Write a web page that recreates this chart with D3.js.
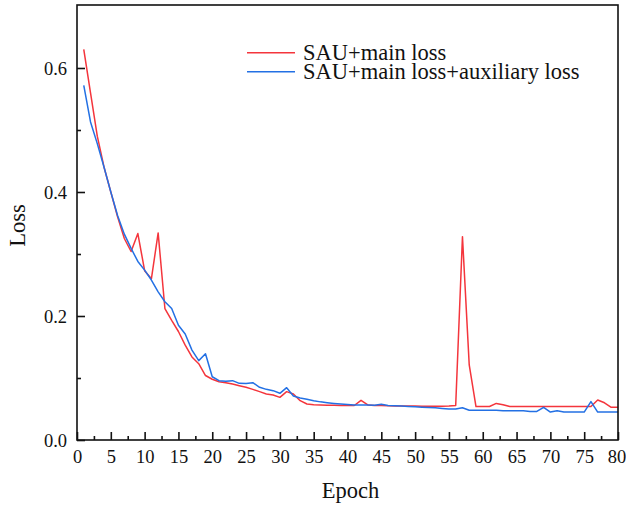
<!DOCTYPE html>
<html><head><meta charset="utf-8">
<script src="https://cdn.jsdelivr.net/npm/d3@7"></script>
<style>body{margin:0;background:#fff}svg{display:block}text{font-family:"Liberation Serif","Times New Roman",serif;fill:#111}</style>
</head><body>
<script>
const epochs = d3.range(1, 81);
const mainLoss = [0.630,0.560,0.490,0.440,0.400,0.360,0.325,0.304,0.333,0.273,
0.260,0.334,0.212,0.193,0.175,0.153,0.134,0.123,0.104,0.098,
0.094,0.0925,0.0903,0.0876,0.085,0.0817,0.078,0.0742,0.0726,0.0688,
0.078,0.0742,0.0634,0.058,0.057,0.0565,0.0562,0.056,0.0558,0.0556,
0.0556,0.064,0.0565,0.0555,0.0555,0.0552,0.055,0.055,0.0548,0.0548,
0.0546,0.0546,0.0545,0.0545,0.0548,0.0556,0.328,0.121,0.054,0.054,
0.054,0.059,0.057,0.054,0.054,0.054,0.054,0.054,0.054,0.054,
0.054,0.054,0.054,0.054,0.054,0.054,0.0645,0.060,0.0527,0.0527];
const auxLoss = [0.572,0.513,0.478,0.440,0.400,0.362,0.332,0.309,0.288,0.274,
0.258,0.239,0.223,0.212,0.185,0.171,0.145,0.128,0.139,0.102,
0.0957,0.0946,0.0957,0.0914,0.091,0.0925,0.085,0.0817,0.0796,0.0753,
0.0844,0.071,0.0677,0.0656,0.0634,0.0615,0.0602,0.059,0.058,0.0572,
0.0565,0.0565,0.0565,0.0562,0.0575,0.0556,0.0552,0.0548,0.0542,0.0535,
0.053,0.0525,0.052,0.051,0.050,0.050,0.052,0.048,0.048,0.048,
0.048,0.048,0.047,0.047,0.047,0.047,0.046,0.046,0.0527,0.045,
0.047,0.045,0.045,0.045,0.045,0.062,0.045,0.045,0.045,0.045];
const xTicks = d3.range(0, 81, 5);
const xMinor = d3.range(2.5, 80, 5);
const yTicks = [0.0, 0.2, 0.4, 0.6];
const yMinor = [0.1, 0.3, 0.5];
const seriesNames = ["SAU+main loss", "SAU+main loss+auxiliary loss"];
const colors = ["#f4353c", "#2370e4"];

const W = 626, H = 506;
const L = 77, R = 618, T = 5, B = 440;
const svg = d3.select("body").append("svg").attr("width", W).attr("height", H);
const x = d3.scaleLinear().domain([0, 80]).range([L, R]);
const y = d3.scaleLinear().domain([0, 0.7016]).range([B, T]);

const line = d3.line().x((d, i) => x(epochs[i])).y(d => y(d));
[mainLoss, auxLoss].forEach((s, k) => {
  svg.append("path").datum(s).attr("d", line).attr("fill", "none")
    .attr("stroke", colors[k]).attr("stroke-width", 1.5).attr("stroke-linejoin", "round");
});

// frame
svg.append("rect").attr("x", L).attr("y", T).attr("width", R - L).attr("height", B - T)
  .attr("fill", "none").attr("stroke", "#111").attr("stroke-width", 1.6);

// x axis
const xAx = svg.append("g").attr("transform", `translate(0,${B})`)
  .call(d3.axisBottom(x).tickValues(xTicks).tickSize(-8).tickFormat(d3.format("d")));
const xAxm = svg.append("g").attr("transform", `translate(0,${B})`)
  .call(d3.axisBottom(x).tickValues(xMinor).tickSize(-4).tickFormat(""));
// y axis
const yAx = svg.append("g").attr("transform", `translate(${L},0)`)
  .call(d3.axisLeft(y).tickValues(yTicks).tickSize(-8).tickFormat(d3.format(".1f")));
const yAxm = svg.append("g").attr("transform", `translate(${L},0)`)
  .call(d3.axisLeft(y).tickValues(yMinor).tickSize(-4).tickFormat(""));
[xAx, xAxm, yAx, yAxm].forEach(g => {
  g.select(".domain").remove();
  g.selectAll("line").attr("stroke", "#111").attr("stroke-width", 1.6);
});
xAx.selectAll("text").attr("font-size", 18.5).attr("y", 10).attr("dy", "0.71em")
  .attr("x", d => d === 80 ? -1.5 : 0);
yAx.selectAll("text").attr("font-size", 18.5).attr("x", -10).attr("dy", "0.34em");

// axis titles
svg.append("text").attr("x", (L + R) / 2 + 3).attr("y", 498).attr("text-anchor", "middle")
  .attr("font-size", 22.5).text("Epoch");
svg.append("text").attr("transform", `translate(25,${(T + B) / 2 + 3}) rotate(-90)`)
  .attr("text-anchor", "middle").attr("font-size", 22.5).text("Loss");

// legend
const lg = svg.append("g");
seriesNames.forEach((n, k) => {
  const yy = 52.7 + k * 19;
  lg.append("line").attr("x1", 247).attr("x2", 295).attr("y1", yy).attr("y2", yy)
    .attr("stroke", colors[k]).attr("stroke-width", 1.5);
  lg.append("text").attr("x", 303).attr("y", yy + 7).attr("font-size", 22.5).text(n);
});
</script>
</body></html>
